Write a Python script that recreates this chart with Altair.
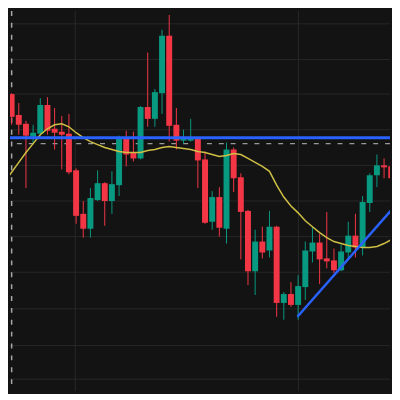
import altair as alt
import pandas as pd

# Candle data (price levels)
idx = list(range(55))
open_ = [263, 308, 287, 278, 265, 268, 297, 273, 270, 268,
         231, 187, 172, 201, 218, 200, 216, 263, 249, 243,
         295, 283, 309, 367, 277, 261, 261, 263, 242, 179,
         204, 172, 252, 224, 190, 129, 159, 150, 174, 97,
         106, 95, 113, 149, 158, 142, 140, 130, 148, 165,
         153, 198, 226, 236, 235]
high = [310, 309, 299, 281, 277, 304, 305, 294, 286, 288,
        233, 200, 213, 231, 219, 230, 266, 271, 270, 296,
        350, 313, 373, 388, 294, 272, 283, 264, 250, 210,
        214, 259, 254, 228, 191, 171, 174, 190, 175, 108,
        118, 125, 159, 174, 167, 189, 152, 156, 179, 187,
        205, 228, 247, 243, 243]
low = [260, 277, 267, 213, 258, 267, 267, 252, 232, 227,
       177, 163, 163, 200, 175, 187, 205, 235, 240, 242,
       275, 275, 288, 260, 252, 258, 260, 213, 177, 171,
       164, 157, 209, 141, 115, 105, 142, 143, 83, 80,
       93, 80, 100, 138, 116, 132, 127, 129, 142, 143,
       145, 189, 214, 223, 221]
close = [308, 285, 277, 266, 269, 297, 271, 269, 267, 229,
         185, 172, 203, 218, 200, 217, 264, 247, 243, 295,
         283, 310, 367, 276, 261, 263, 263, 241, 178, 204,
         173, 252, 223, 189, 129, 159, 148, 174, 97, 106,
         95, 114, 150, 158, 141, 139, 130, 149, 165, 153,
         199, 226, 236, 234, 223]
ma = [219, 229, 239, 249, 258, 267, 273, 277, 278, 275,
      269, 264, 260, 257, 254, 252, 250, 249, 249, 249,
      251, 252, 254, 255, 254, 253, 252, 250, 249, 247,
      245, 246, 248, 247, 243, 239, 235, 230, 216, 204,
      195, 188, 180, 174, 168, 163, 159, 157, 155, 154,
      153, 153, 154, 157, 161]

grid_prices = [379, 343, 308, 272, 236, 200, 164, 128, 91, 54, 20]
grid_index = [9.88, 41.04]
level_price = [264]
dashed_price = [258]
dashed_index = [1.0]
trend_index = [40.9, 55.0]
trend_price = [83, 199]

BG = "#131313"
UP = "#089981"
DOWN = "#f23645"

df = pd.DataFrame({"i": idx, "open": open_, "high": high, "low": low,
                   "close": close, "ma": ma})
df["dir"] = ["up" if c >= o else "down" for o, c in zip(open_, close)]

X = alt.Scale(domain=[0.769, 53.83], nice=False, zero=False, padding=0)
Y = alt.Scale(domain=[8, 392], nice=False, zero=False, padding=0)
col = alt.Color("dir:N", scale=alt.Scale(domain=["up", "down"], range=[UP, DOWN]),
                legend=None)

hgrid = alt.Chart(pd.DataFrame({"p": grid_prices})).mark_rule(
    color="#272727", strokeWidth=1, clip=True).encode(y=alt.Y("p:Q", scale=Y, axis=None))
vgrid = alt.Chart(pd.DataFrame({"i": grid_index})).mark_rule(
    color="#272727", strokeWidth=1, clip=True).encode(x=alt.X("i:Q", scale=X, axis=None))
hdash = alt.Chart(pd.DataFrame({"p": dashed_price})).mark_rule(
    color="#9a9a9a", strokeWidth=1.2, strokeDash=[5, 7]).encode(
    y=alt.Y("p:Q", scale=Y, axis=None))
vdash = alt.Chart(pd.DataFrame({"i": dashed_index})).mark_rule(
    color="#a8a8a8", strokeWidth=1.5, strokeDash=[5, 7]).encode(
    x=alt.X("i:Q", scale=X, axis=None))

base = alt.Chart(df)
wick = base.mark_rule(strokeWidth=1, clip=True).encode(
    x=alt.X("i:Q", scale=X, axis=None),
    y=alt.Y("low:Q", scale=Y, axis=None), y2="high:Q", color=col)
body = base.mark_bar(size=6, clip=True).encode(
    x=alt.X("i:Q", scale=X, axis=None),
    y=alt.Y("open:Q", scale=Y, axis=None), y2="close:Q", color=col)
maline = base.mark_line(color="#cfbf45", strokeWidth=1.5, clip=True).encode(
    x=alt.X("i:Q", scale=X, axis=None), y=alt.Y("ma:Q", scale=Y, axis=None))

level = alt.Chart(pd.DataFrame({"p": level_price})).mark_rule(
    color="#2962ff", strokeWidth=3).encode(y=alt.Y("p:Q", scale=Y, axis=None))
trend = alt.Chart(pd.DataFrame({"i": trend_index, "p": trend_price})).mark_line(
    color="#2962ff", strokeWidth=2.5, clip=True).encode(
    x=alt.X("i:Q", scale=X, axis=None), y=alt.Y("p:Q", scale=Y, axis=None))

chart = alt.layer(hgrid, vgrid, hdash, vdash, wick, body, maline, level, trend).properties(
    width=384, height=384, padding=0, background=BG
).configure_view(strokeWidth=0)

chart.save("out.html", embed_options={"renderer": "svg", "actions": False})
